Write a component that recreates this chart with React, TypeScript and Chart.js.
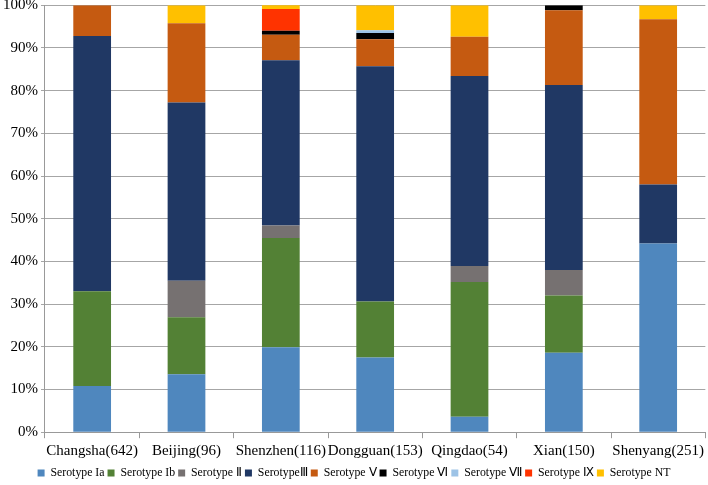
import React, { useEffect, useRef } from "react";
import { Chart, registerables } from "chart.js";

Chart.register(...registerables);

const categories = [
  "Changsha(642)",
  "Beijing(96)",
  "Shenzhen(116)",
  "Dongguan(153)",
  "Qingdao(54)",
  "Xian(150)",
  "Shenyang(251)",
];

const serotypeIa = [10.8, 13.6, 19.9, 17.5, 3.6, 18.6, 44.2];
const serotypeIb = [22.2, 13.3, 25.6, 13.1, 31.6, 13.4, 0];
const serotypeII = [0, 8.6, 2.9, 0, 3.7, 6.0, 0];
const serotypeIII = [59.8, 41.7, 38.7, 55.1, 44.5, 43.3, 13.8];
const serotypeV = [7.2, 18.6, 6.0, 6.35, 9.2, 17.5, 38.7];
const serotypeVI = [0, 0, 0.95, 1.45, 0, 1.2, 0];
const serotypeVII = [0, 0, 0, 0.65, 0, 0, 0];
const serotypeIX = [0, 0, 5.1, 0, 0, 0, 0];
const serotypeNT = [0, 4.2, 0.9, 5.85, 7.4, 0, 3.3];

const seriesLabels = [
  "Serotype Ia",
  "Serotype Ib",
  "Serotype Ⅱ",
  "SerotypeⅢ",
  "Serotype Ⅴ",
  "Serotype Ⅵ",
  "Serotype Ⅶ",
  "Serotype Ⅸ",
  "Serotype NT",
];
const seriesData = [
  serotypeIa,
  serotypeIb,
  serotypeII,
  serotypeIII,
  serotypeV,
  serotypeVI,
  serotypeVII,
  serotypeIX,
  serotypeNT,
];
const seriesColors = [
  "#4F87BE",
  "#538135",
  "#767171",
  "#203864",
  "#C55A11",
  "#000000",
  "#9DC3E6",
  "#FF3300",
  "#FFC000",
];

const yTicks = [0, 10, 20, 30, 40, 50, 60, 70, 80, 90, 100];

export default function App() {
  const ref = useRef<HTMLCanvasElement | null>(null);
  useEffect(() => {
    document.body.style.margin = "0";
    document.body.style.overflow = "hidden";
    const ctx = ref.current!;
    const chart = new Chart(ctx, {
      type: "bar",
      data: {
        labels: categories,
        datasets: seriesLabels.map((label, i) => ({
          label,
          data: seriesData[i],
          backgroundColor: seriesColors[i],
          borderWidth: 0,
          barPercentage: 0.4,
          categoryPercentage: 1,
        })),
      },
      options: {
        animation: false,
        responsive: false,
        maintainAspectRatio: false,
        layout: { padding: { left: 0, right: 0, top: 0, bottom: 0 } },
        plugins: {
          tooltip: { enabled: false },
          legend: {
            position: "bottom",
            labels: {
              boxWidth: 7,
              boxHeight: 7,
              padding: 3,
              color: "#000",
              font: { family: "Liberation Serif", size: 11.8 },
            },
          },
        },
        scales: {
          x: {
            stacked: true,
            grid: {
              display: true,
              drawOnChartArea: false,
              drawTicks: true,
              tickLength: 6,
              color: "#999",
              offset: true,
            },
            border: { color: "#999" },
            ticks: {
              color: "#000",
              font: { family: "Liberation Serif", size: 15 },
              maxRotation: 0,
              autoSkip: false,
              padding: 4,
            },
          },
          y: {
            stacked: true,
            min: 0,
            max: 100,
            afterBuildTicks: (axis: any) => {
              axis.ticks = yTicks.map((v) => ({ value: v }));
            },
            grid: { color: "#A6A6A6", drawTicks: true, tickLength: 4 },
            border: { color: "#999" },
            ticks: {
              color: "#000",
              font: { family: "Liberation Serif", size: 15, lineHeight: 0.3 },
              padding: 3,
              callback: (v: any) => v + "%",
            },
          },
        },
      },
    });
    return () => chart.destroy();
  }, []);
  return (
    <div style={{ width: 708, height: 485, overflow: "hidden" }}>
      <canvas ref={ref} width={708} height={489} style={{ display: "block" }} />
    </div>
  );
}
